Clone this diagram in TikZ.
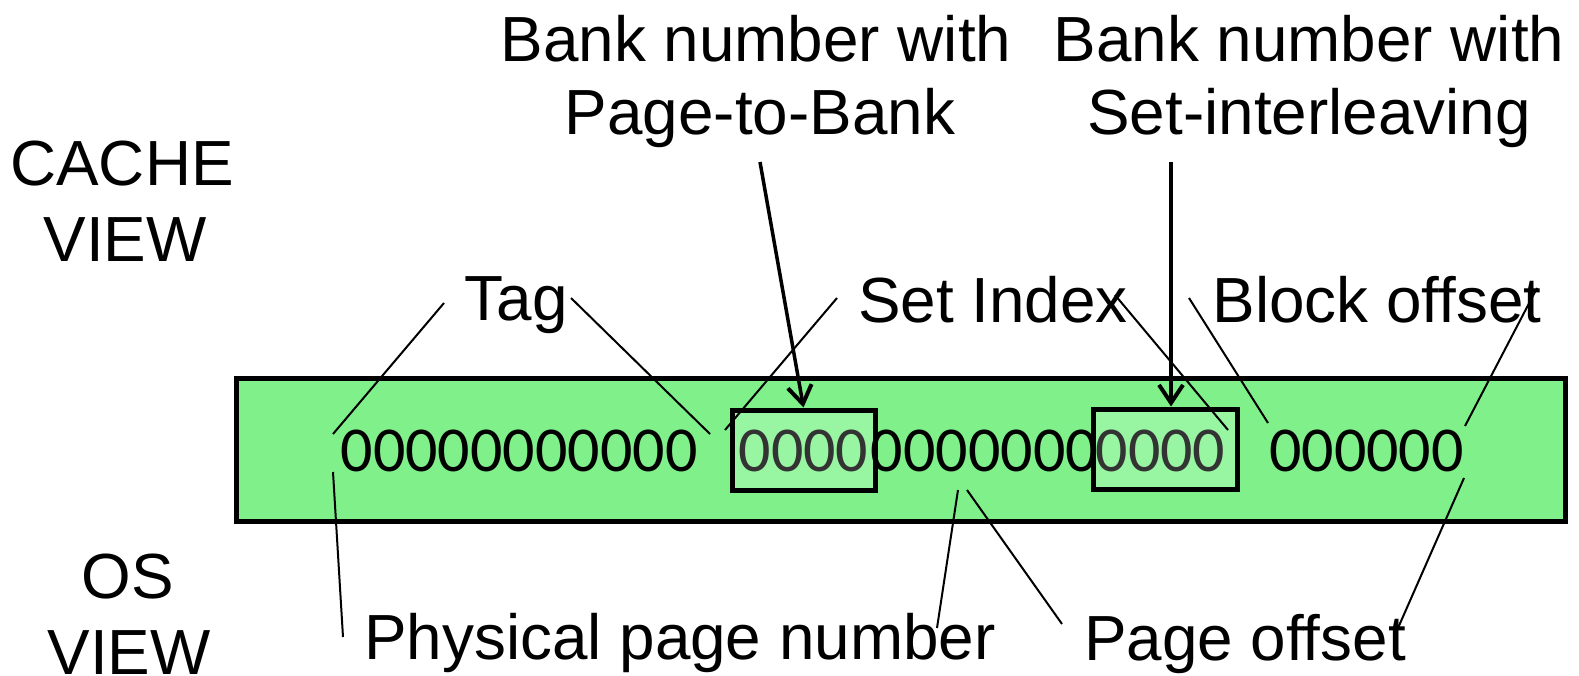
\documentclass[tikz,border=0pt]{standalone}
\usepackage{fontspec}
\setmainfont{Liberation Sans}
\newfontfamily\digitfont{Carlito}
\usetikzlibrary{arrows.meta}
\definecolor{regfill}{RGB}{128,240,138}
\definecolor{bankfill}{RGB}{152,246,162}
\definecolor{bankdigit}{RGB}{51,51,51}
\begin{document}
\begin{tikzpicture}[x=1pt,y=-1pt,
  lbl/.style={font=\fontsize{63.8}{73}\selectfont, inner sep=0pt, anchor=base},
  digits/.style={font=\digitfont\fontsize{64}{70}\selectfont, inner sep=0pt, anchor=base},
  leader/.style={line width=2pt},
  bankarrow/.style={line width=3.5pt, -{Straight Barb[length=18pt,width=24pt,line width=4pt]}},
  bankbox/.style={draw, line width=5pt, fill=bankfill, inner sep=0pt}]

\useasboundingbox (0,0) rectangle (1579,676);

% register
\node[draw, line width=5pt, fill=regfill, minimum width=1329pt, minimum height=143pt, inner sep=0pt] (reg) at (900.5,449.5) {};
\node[bankbox, minimum width=143pt, minimum height=80pt] (box1) at (803.5,450) {};
\node[bankbox, minimum width=144pt, minimum height=80pt] (box2) at (1165,449) {};

% digits
\node[digits] (d1) at (519,471) {00000000000};
\node[digits, text=bankdigit] (d2) at (803.5,471) {0000};
\node[digits] (d3) at (984.5,471) {0000000};
\node[digits, text=bankdigit] (d4) at (1160.5,471) {0000};
\node[digits] (d5) at (1366.5,471) {000000};

% labels
\node[lbl] (bankA1) at (756,62) {Bank number with};
\node[lbl] (bankA2) at (760,135) {Page-to-Bank};
\node[lbl] (bankB1) at (1309,62) {Bank number with};
\node[lbl] (bankB2) at (1309,135) {Set-interleaving};
\node[lbl] (cache1) at (122,186) {CACHE};
\node[lbl] (cache2) at (125,262) {VIEW};
\node[lbl] (os1) at (128,598) {OS};
\node[lbl] (os2) at (129,674) {VIEW};
\node[lbl] (tag) at (516,320) {Tag};
\node[lbl] (setidx) at (993,322) {Set Index};
\node[lbl] (block) at (1377,322) {Block offset};
\node[lbl] (phys) at (680,659) {Physical page number};
\node[lbl] (pageoff) at (1245,660) {Page offset};

% arrow start points
\coordinate (a1s) at (760,162);
\coordinate (a2s) at (1171,162);
\draw[bankarrow] (a1s) -- (box1.north);
\draw[bankarrow] (a2s) -- (a2s |- box2.north);

% leader line ends
\coordinate (t1a) at (444,303);  \coordinate (t1b) at (333,434);
\coordinate (t2a) at (571,298);  \coordinate (t2b) at (710,434);
\coordinate (s1a) at (837,298);  \coordinate (s1b) at (725,430);
\coordinate (s2a) at (1115,295); \coordinate (s2b) at (1228,430);
\coordinate (b1a) at (1189,298); \coordinate (b1b) at (1268,423);
\coordinate (b2a) at (1537,288); \coordinate (b2b) at (1465,426);
\coordinate (p1a) at (333,472);  \coordinate (p1b) at (343,637);
\coordinate (p2a) at (958,490);  \coordinate (p2b) at (937,628);
\coordinate (o1a) at (967,490);  \coordinate (o1b) at (1062,624);
\coordinate (o2a) at (1464,478); \coordinate (o2b) at (1398,628);

\draw[leader] (t1a) -- (t1b);
\draw[leader] (t2a) -- (t2b);
\draw[leader] (s1a) -- (s1b);
\draw[leader] (s2a) -- (s2b);
\draw[leader] (b1a) -- (b1b);
\draw[leader] (b2a) -- (b2b);
\draw[leader] (p1a) -- (p1b);
\draw[leader] (p2a) -- (p2b);
\draw[leader] (o1a) -- (o1b);
\draw[leader] (o2a) -- (o2b);
\end{tikzpicture}
\end{document}
